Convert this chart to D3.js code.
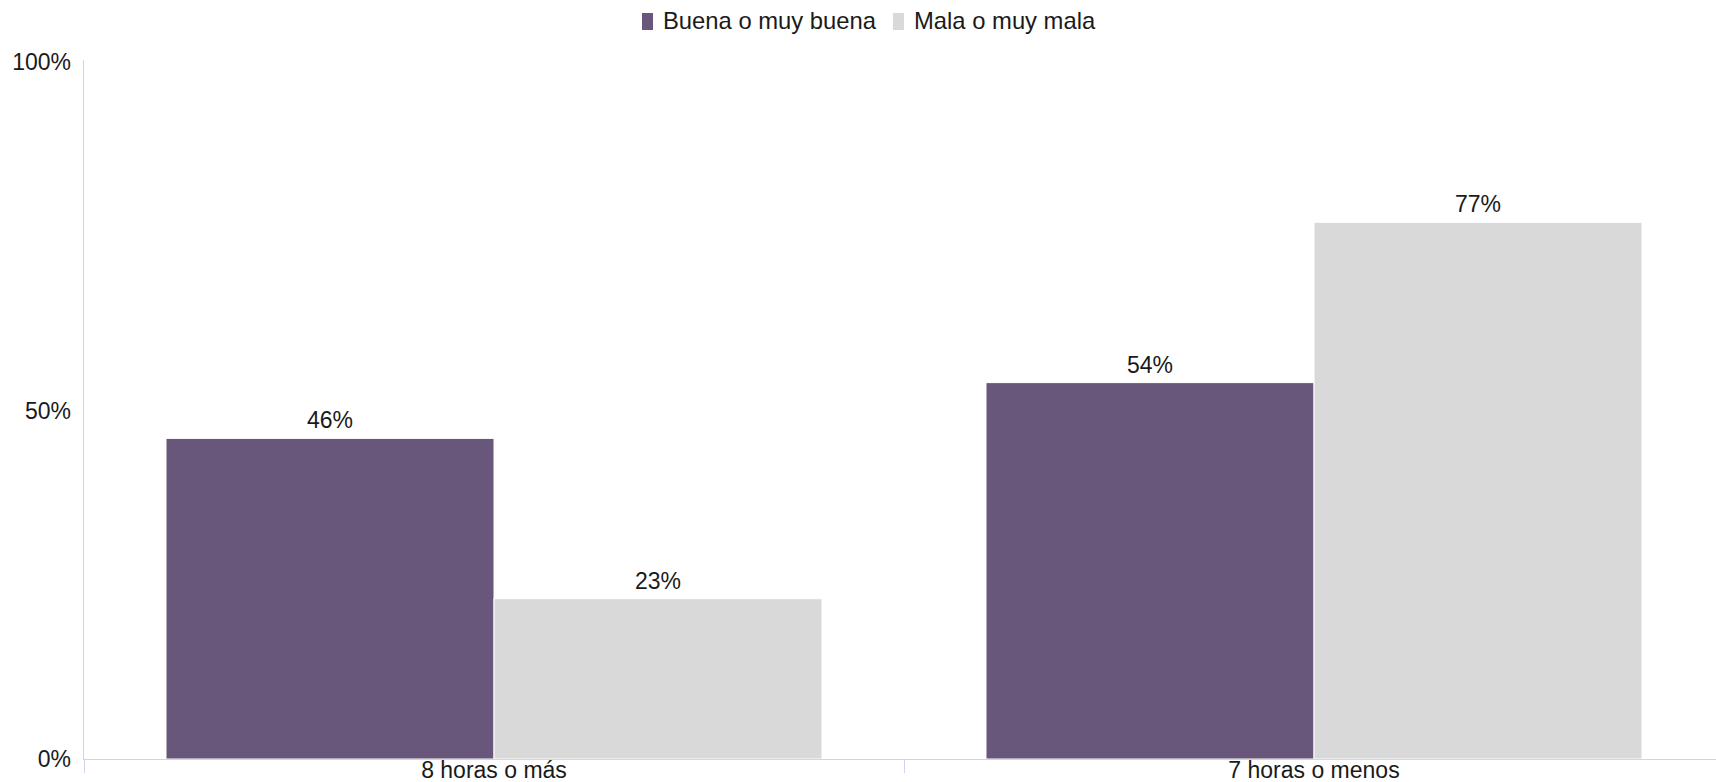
<!DOCTYPE html>
<html>
<head>
<meta charset="utf-8">
<script src="https://cdn.jsdelivr.net/npm/d3@7"></script>
<style>
  html, body { margin: 0; padding: 0; background: #ffffff; }
  svg { display: block; font-family: "Liberation Sans", Arial, sans-serif; }
</style>
</head>
<body>
<svg id="chart" width="1716" height="782"></svg>
<script>
// Sleep duration groups and the share reporting each self-rated health level
const categories = ["8 horas o más", "7 horas o menos"];
const seriesNames = ["Buena o muy buena", "Mala o muy mala"];
const buenaValues = [46, 54];
const malaValues = [23, 77];
const yTicks = [0, 50, 100];

const colors = ["#68577b", "#d9d9d9"];
const seriesValues = [buenaValues, malaValues];

const svg = d3.select("#chart");
const W = 1716, H = 782;
const fontSize = 23;
const legendFontSize = 23.8;

const x = d3.scaleBand()
  .domain(categories)
  .range([84, 1724])
  .paddingInner(0.2)
  .paddingOuter(0.1);

const xs = d3.scaleBand()
  .domain(seriesNames)
  .range([0, x.bandwidth()])
  .padding(0);

const y = d3.scaleLinear()
  .domain([0, 100])
  .range([759, 62]);

// Y axis line
svg.append("line")
  .attr("x1", 83.5).attr("x2", 83.5)
  .attr("y1", 60).attr("y2", y(0))
  .attr("stroke", "#ccd6eb").attr("stroke-width", 1);

// Y tick labels
svg.append("g").selectAll("text")
  .data(yTicks)
  .join("text")
  .attr("x", 71)
  .attr("y", d => y(d))
  .attr("dy", "0.35em")
  .attr("text-anchor", "end")
  .attr("font-size", fontSize)
  .attr("fill", "#1a1a1a")
  .text(d => d + "%");

// Bars
const rows = categories.map((c, i) => ({
  cat: c,
  vals: seriesNames.map((s, j) => ({ s, j, v: seriesValues[j][i] }))
}));

const groups = svg.append("g").selectAll("g")
  .data(rows)
  .join("g")
  .attr("transform", d => `translate(${x(d.cat)},0)`);

groups.selectAll("rect")
  .data(d => d.vals)
  .join("rect")
  .attr("x", d => xs(d.s))
  .attr("y", d => y(d.v))
  .attr("width", xs.bandwidth())
  .attr("height", d => y(0) - y(d.v))
  .attr("fill", d => colors[d.j])
  .attr("stroke", "#ffffff")
  .attr("stroke-width", 1);

groups.selectAll("text")
  .data(d => d.vals)
  .join("text")
  .attr("x", d => xs(d.s) + xs.bandwidth() / 2)
  .attr("y", d => y(d.v) - 10)
  .attr("text-anchor", "middle")
  .attr("font-size", fontSize)
  .attr("fill", "#1a1a1a")
  .text(d => d.v + "%");

// X axis line and ticks at category boundaries
svg.append("line")
  .attr("x1", 83).attr("x2", W)
  .attr("y1", y(0) + 0.5).attr("y2", y(0) + 0.5)
  .attr("stroke", "#ccd6eb").attr("stroke-width", 1);

const step = x.step();
const boundaries = [x.range()[0], x.range()[0] + step, x.range()[0] + 2 * step];
svg.append("g").selectAll("line")
  .data(boundaries)
  .join("line")
  .attr("x1", d => d + 0.5).attr("x2", d => d + 0.5)
  .attr("y1", y(0)).attr("y2", y(0) + 14)
  .attr("stroke", "#ccd6eb").attr("stroke-width", 1);

// Category labels
svg.append("g").selectAll("text")
  .data(categories)
  .join("text")
  .attr("x", d => x(d) + x.bandwidth() / 2)
  .attr("y", 778)
  .attr("text-anchor", "middle")
  .attr("font-size", fontSize)
  .attr("fill", "#1a1a1a")
  .text(d => d);

// Legend
const legend = svg.append("g");
let lx = 642;
seriesNames.forEach((name, j) => {
  legend.append("rect")
    .attr("x", lx).attr("y", 13)
    .attr("width", 11).attr("height", 17)
    .attr("fill", colors[j]);
  const t = legend.append("text")
    .attr("x", lx + 21).attr("y", 29)
    .attr("font-size", legendFontSize)
    .attr("fill", "#1a1a1a")
    .text(name);
  lx += 21 + t.node().getComputedTextLength() + 17;
});
</script>
</body>
</html>
